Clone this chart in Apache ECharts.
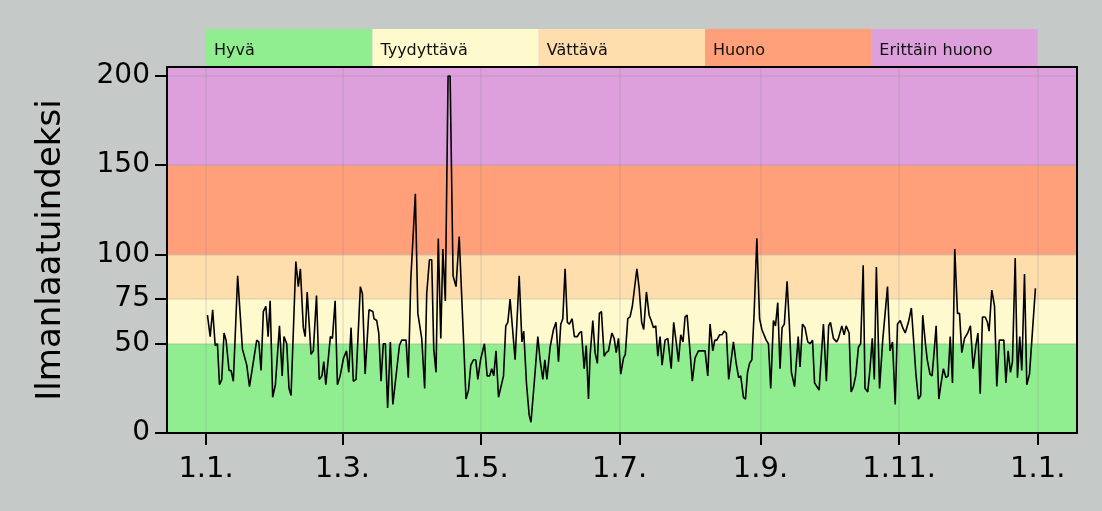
<!DOCTYPE html>
<html><head><meta charset="utf-8">
<script src="https://cdn.jsdelivr.net/npm/echarts@6/dist/echarts.min.js"></script>
<style>html,body{margin:0;padding:0;background:#c5c9c7;}#c{width:1102px;height:511px;}</style>
</head><body><div id="c"></div>
<script>
// Day offsets from 1.1. (leap year) and air quality index values
const days = [
0.6,1.8,2.9,4.0,5.0,5.9,6.9,7.9,8.8,10.1,11.0,12.0,13.9,16.0,17.9,19.1,22.3,23.2,24.2,25.2,26.3,27.3,28.2,29.3,30.5,32.3,33.5,34.3,
35.5,36.5,37.4,39.5,40.6,41.5,42.8,43.6,44.5,46.2,47.2,48.6,49.8,51.0,51.8,52.7,54.7,55.6,56.8,57.8,59.0,60.5,61.8,62.8,63.8,64.8,66.0,67.9,68.8,70.0,71.7,
72.4,73.4,73.9,75.1,76.0,77.0,78.0,78.9,79.9,81.1,82.2,83.0,85.1,86.1,88.0,89.0,90.1,92.1,93.2,94.9,96.2,97.1,98.3,99.3,100.2,101.2,102.2,103.3,104.2,105.3,106.5,107.4,
108.7,110.0,111.4,114.4,115.5,116.5,117.7,118.7,119.6,120.8,122.5,123.7,124.8,125.7,126.6,127.6,128.7,130.9,131.9,132.8,133.8,136.0,137.8,139.0,139.8,141.0,142.2,143.0,144.8,146.0,
147.0,148.2,149.1,150.0,151.4,152.9,154.0,155.1,156.1,157.0,158.0,159.0,159.9,161.1,162.1,163.4,164.3,165.2,166.4,167.3,168.3,169.0,170.2,171.2,172.2,173.1,174.0,175.2,176.1,177.1,178.6,179.6,180.5,181.5,182.5,183.7,
184.5,185.6,186.6,187.6,189.6,190.6,191.7,192.6,193.8,195.0,195.9,196.9,197.9,198.8,199.8,200.7,202.0,203.2,204.7,205.8,207.0,207.9,208.9,209.9,210.8,211.7,212.9,214.0,215.2,216.7,218.4,219.6,220.8,221.8,
223.0,223.9,224.8,226.0,227.0,228.0,229.0,230.0,232.1,233.3,234.4,235.3,236.5,237.4,238.3,239.2,240.2,241.2,242.4,243.6,244.6,246.5,247.5,248.5,249.7,250.6,251.6,252.6,253.5,254.5,255.7,256.7,257.6,259.0,
260.6,261.4,262.5,263.6,264.8,265.8,266.9,267.8,269.8,271.7,273.0,274.0,274.8,276.1,277.5,278.3,279.8,280.8,281.7,283.0,283.9,284.9,285.9,287.1,288.1,289.2,290.0,291.2,292.2,293.2,294.1,295.0,296.4,
297.8,299.9,301.0,302.1,303.3,304.3,305.5,306.6,307.7,309.1,310.4,311.6,312.4,313.5,314.5,315.4,316.6,317.4,318.6,319.5,320.4,321.3,322.5,323.5,324.5,325.6,326.6,327.5,328.5,329.5,330.7,331.6,332.6,333.8,
335.2,336.4,337.6,338.8,339.7,340.7,341.7,342.9,343.9,344.6,345.8,347.0,348.0,349.1,350.2,351.1,352.0,353.0,354.0,354.9,356.1,357.1,358.1,359.0,360.2,361.2,362.4,363.1,365.0
];
const values = [
66,54,69,49,50,27,30,56,52,35,35,29,88,47,38,26,52,51,35,68,71,54,74,20,27,60,32,54,
50,25,21,96,82,92,59,54,79,44,46,77,30,32,40,27,54,53,74,27,32,42,46,34,59,29,30,82,78,33,69,
69,68,64,63,56,29,50,50,14,51,16,16,49,52,52,31,86,134,67,53,25,78,97,97,47,34,109,53,103,74,200,200,
88,82,110,19,24,38,41,41,30,41,50,32,32,36,32,46,20,32,60,62,75,41,88,51,57,28,10,6,34,54,
41,30,41,30,48,58,62,40,61,64,92,62,61,64,54,54,56,57,36,49,19,43,63,45,39,67,68,43,45,46,56,53,45,53,33,42,
44,64,65,71,92,81,62,58,79,66,63,59,60,43,54,38,52,53,36,62,50,40,55,51,65,66,47,29,42,46,46,46,32,61,
46,52,52,55,55,57,56,30,51,39,31,32,20,19,34,39,41,67,109,64,58,52,50,25,63,60,73,36,59,61,85,61,34,26,
54,37,61,59,51,50,52,28,24,61,29,60,62,53,51,53,60,55,60,56,23,26,32,48,50,94,25,23,36,53,30,93,25,
52,82,46,51,16,61,63,59,56,62,70,48,33,19,21,66,50,41,33,32,45,60,19,28,36,31,32,54,28,103,67,67,45,53,
56,60,36,49,56,22,65,65,62,57,80,71,26,52,52,52,28,46,34,40,98,31,54,35,89,27,33,32,81
];
const xTickDays = [0, 60, 121, 182, 244, 305, 366];
const xTickLabels = ['1.1.', '1.3.', '1.5.', '1.7.', '1.9.', '1.11.', '1.1.'];
const yTicks = [0, 50, 75, 100, 150, 200];
const bandLimits = [0, 50, 75, 100, 150, 205];
const bandColors = ['#90ee90', '#fffacd', '#ffdead', '#ffa07a', '#dda0dd'];
const bandNames = ['Hyvä', 'Tyydyttävä', 'Vättävä', 'Huono', 'Erittäin huono'];
const yName = 'Ilmanlaatuindeksi';

const FONT = 'DejaVu Sans';
const xMin = -17.2, xMax = 383.3;
const yMin = bandLimits[0], yMax = bandLimits[bandLimits.length - 1];

const lineData = days.map((d, i) => [d, values[i]]);
const bandAreas = bandColors.map((c, i) => [
  { yAxis: bandLimits[i], itemStyle: { color: c } },
  { yAxis: bandLimits[i + 1] }
]);
const legStart = xTickDays[0], legEnd = xTickDays[xTickDays.length - 1];
const legW = (legEnd - legStart) / bandNames.length;
const legendAreas = bandNames.map((n, i) => [
  { name: n, xAxis: legStart + i * legW, itemStyle: { color: bandColors[i] } },
  { xAxis: legStart + (i + 1) * legW }
]);

const chart = echarts.init(document.getElementById('c'), null, { renderer: 'canvas' });
const frame = { show: true, onZero: false, lineStyle: { color: '#000', width: 2 } };
const gridLine = { show: true, lineStyle: { color: 'rgba(128,128,128,0.15)', width: 2 } };
chart.setOption({
  backgroundColor: '#c5c9c7',
  animation: false,
  grid: [
    { left: 167, right: 25, top: 67, bottom: 78 },
    { left: 167, right: 25, top: 29, height: 38 }
  ],
  xAxis: [
    { type: 'value', gridIndex: 0, min: xMin, max: xMax, z: 3,
      axisLine: frame,
      axisTick: { show: true, length: 12, customValues: xTickDays, lineStyle: { color: '#000', width: 2 } },
      axisLabel: { customValues: xTickDays, margin: 22, fontSize: 29, color: '#000', fontFamily: FONT,
        formatter: v => { const k = xTickDays.indexOf(v); return k >= 0 ? xTickLabels[k] : ''; } },
      splitLine: gridLine },
    { type: 'value', gridIndex: 0, position: 'top', min: xMin, max: xMax, z: 3,
      axisLine: frame, axisTick: { show: false }, axisLabel: { show: false }, splitLine: { show: false } },
    { type: 'value', gridIndex: 1, min: xMin, max: xMax, show: false }
  ],
  yAxis: [
    { type: 'value', gridIndex: 0, min: yMin, max: yMax, z: 3,
      name: yName, nameLocation: 'middle', nameGap: 99, nameRotate: 90,
      nameTextStyle: { fontSize: 34, color: '#000', fontFamily: FONT },
      axisLine: frame,
      axisTick: { show: true, length: 12, customValues: yTicks, lineStyle: { color: '#000', width: 2 } },
      axisLabel: { customValues: yTicks, margin: 17, fontSize: 28, color: '#000', fontFamily: FONT },
      splitLine: gridLine },
    { type: 'value', gridIndex: 0, position: 'right', min: yMin, max: yMax, z: 3,
      axisLine: frame, axisTick: { show: false }, axisLabel: { show: false }, splitLine: { show: false } },
    { type: 'value', gridIndex: 1, min: 0, max: 1, show: false }
  ],
  series: [
    { type: 'line', xAxisIndex: 0, yAxisIndex: 0, data: [], z: 1, silent: true,
      markArea: { silent: true, data: bandAreas } },
    { type: 'line', xAxisIndex: 2, yAxisIndex: 2, data: [], z: 1, silent: true,
      markArea: { silent: true, data: legendAreas,
        label: { show: true, position: 'insideLeft', distance: 8, offset: [0, 3], color: '#111', fontSize: 16, fontFamily: FONT } } },
    { type: 'line', xAxisIndex: 0, yAxisIndex: 0, data: lineData, z: 5, symbol: 'none',
      lineStyle: { color: '#000', width: 1.6 } }
  ]
});
</script></body></html>
